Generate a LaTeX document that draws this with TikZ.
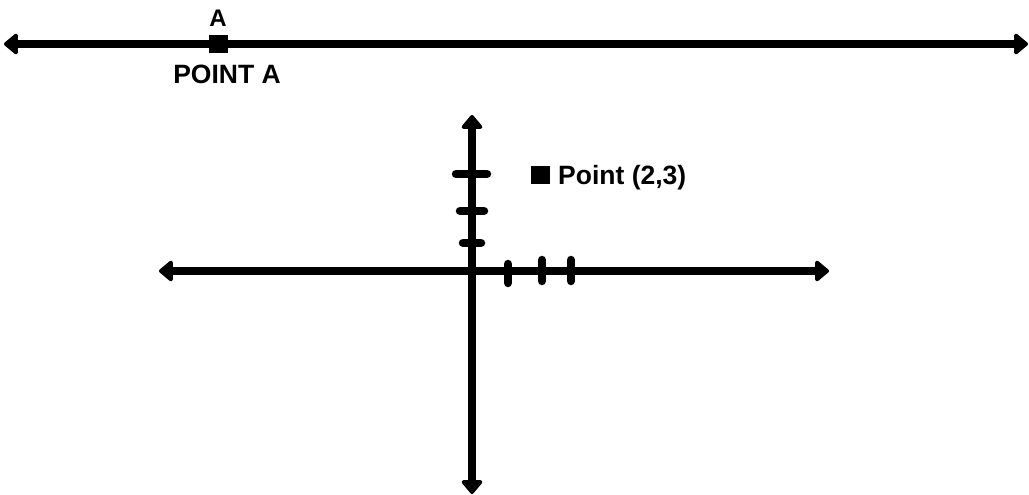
\documentclass[tikz,border=0pt]{standalone}
\usepackage{fontspec}
\setmainfont{Liberation Sans}
\usetikzlibrary{arrows.meta}
\begin{document}
\begin{tikzpicture}[x=1pt,y=-1pt,
  tip/.tip={Triangle[length=15pt,width=24pt,round]},
  axis/.style={line width=8.5pt, tip-tip},
  tick/.style={line width=8.5pt, line cap=round},
  dot/.style={fill=black, minimum width=19pt, minimum height=18pt, inner sep=0pt},
  lbl/.style={inner sep=0pt}]
\useasboundingbox (0,0) rectangle (1029,495);
% top number line
\coordinate (tl) at (4,44);
\coordinate (tr) at (1028,44);
\draw[axis] (tl) -- (tr);
\node[dot] (pa) at (218,44) {};
\node[lbl, font=\bfseries\fontsize{24}{24}\selectfont, anchor=base] (la) at (218,27) {A};
\node[lbl, font=\bfseries\fontsize{26.5}{26.5}\selectfont, anchor=base] (lpa) at (227,84) {POINT A};
% coordinate axes
\coordinate (xl) at (159,271);
\coordinate (xr) at (829,271);
\coordinate (yt) at (472,115);
\coordinate (yb) at (472,494);
\draw[axis] (xl) -- (xr);
\draw[axis] (yb) -- (yt);
% y ticks
\coordinate (y1a) at (456,174); \coordinate (y1b) at (487,174);
\coordinate (y2a) at (460,211); \coordinate (y2b) at (484,211);
\coordinate (y3a) at (463,243); \coordinate (y3b) at (481,243);
\draw[tick] (y1a) -- (y1b);
\draw[tick] (y2a) -- (y2b);
\draw[tick] (y3a) -- (y3b);
% x ticks
\coordinate (x1a) at (508,264); \coordinate (x1b) at (508,283);
\coordinate (x2a) at (542,260); \coordinate (x2b) at (542,281);
\coordinate (x3a) at (571,260); \coordinate (x3b) at (571,281);
\draw[tick] (x1a) -- (x1b);
\draw[tick] (x2a) -- (x2b);
\draw[tick] (x3a) -- (x3b);
% point (2,3)
\node[dot] (p23) at (540,175) {};
\node[lbl, font=\bfseries\fontsize{26.5}{26.5}\selectfont, anchor=base west] (lp23) at (558,184) {Point (2,3)};
\end{tikzpicture}
\end{document}
